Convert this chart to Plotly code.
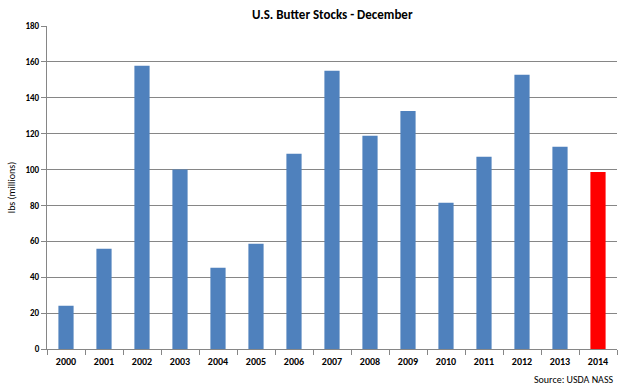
import plotly.graph_objects as go

years = ["2000", "2001", "2002", "2003", "2004", "2005", "2006", "2007",
         "2008", "2009", "2010", "2011", "2012", "2013", "2014"]
stocks = [24.1, 55.9, 157.8, 100.0, 45.3, 58.7, 108.8, 155.0,
          118.8, 132.7, 81.5, 107.1, 152.8, 112.7, 98.7]
bar_colors = ["#4F81BD"] * 14 + ["#FF0000"]
y_ticks = [0, 20, 40, 60, 80, 100, 120, 140, 160, 180]

fig = go.Figure()
fig.add_trace(go.Bar(x=years, y=stocks, marker=dict(color=bar_colors, line=dict(width=0)),
                     width=0.4))

font_family = "Carlito, Calibri, 'Liberation Sans', Arial, sans-serif"

fig.update_layout(
    width=628, height=388,
    margin=dict(l=47, r=11, t=26, b=39, autoexpand=False),
    paper_bgcolor="white", plot_bgcolor="white",
    showlegend=False,
    title=dict(text="<b>U.S. Butter Stocks - December</b>", x=0.529, xanchor="center",
               y=0.963, yanchor="middle", automargin=False,
               font=dict(family=font_family, size=13, color="#000000")),
    font=dict(family=font_family, color="#000000"),
)
fig.update_xaxes(
    type="category", showgrid=False, automargin=False,
    showline=True, linecolor="#868686", linewidth=1,
    ticks="outside", tickson="boundaries", ticklen=5, tickcolor="#868686",
    tickfont=dict(size=10, family=font_family, weight="bold"),
    ticklabelstandoff=3,
    range=[-0.5, 14.5],
)
fig.update_yaxes(
    range=[0, 180], tickvals=y_ticks, automargin=False,
    showgrid=True, gridcolor="#868686", gridwidth=1,
    showline=True, linecolor="#868686", linewidth=1,
    ticks="outside", ticklen=5, tickcolor="#868686",
    tickfont=dict(size=9, family=font_family, weight="bold"),
    title=dict(text="lbs (millions)", font=dict(size=10, family=font_family), standoff=8),
    zeroline=False,
)
fig.add_annotation(text="Source: USDA NASS", xref="paper", yref="paper",
                   x=0.998, y=-0.068, xanchor="right", yanchor="top", showarrow=False,
                   font=dict(size=10, family=font_family, color="#000000"))

fig.write_html("out.html", config={"displayModeBar": False},
               post_script="document.body.style.margin='0';")
